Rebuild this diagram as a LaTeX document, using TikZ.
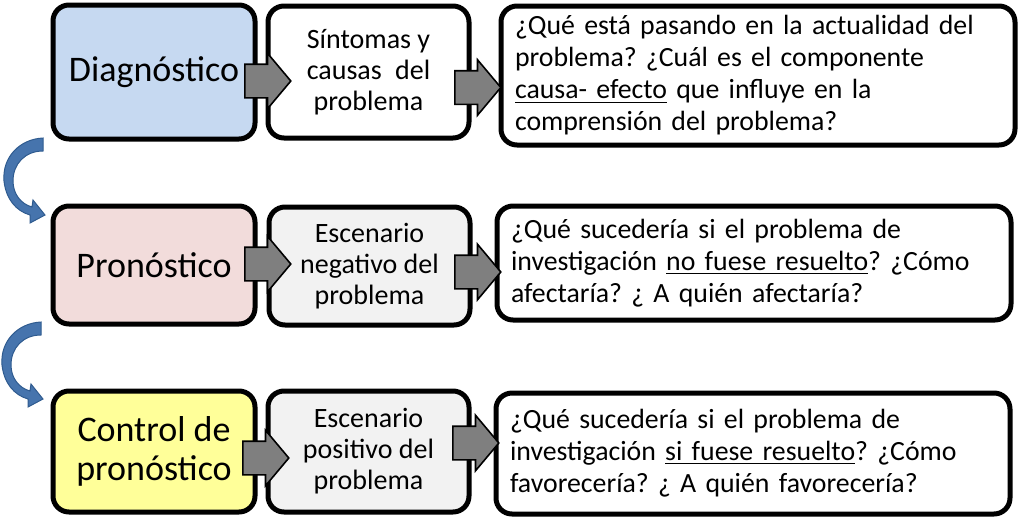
\documentclass[tikz,border=0pt]{standalone}
\usepackage{fontspec}
\setmainfont{Carlito}
\frenchspacing
\usetikzlibrary{shapes.arrows}
\definecolor{diagblue}{HTML}{C6D9F1}
\definecolor{pronpink}{HTML}{F2DCDB}
\definecolor{ctrlyellow}{HTML}{FFFF99}
\definecolor{scengray}{HTML}{F2F2F2}
\definecolor{pushgray}{HTML}{7F7F7F}
\definecolor{curveblue}{HTML}{4674AD}
\definecolor{curveedge}{HTML}{2F5B8F}
\tikzstyle{phase} = [rectangle, draw, line width=2.5pt, rounded corners=8pt, minimum width=101pt, inner sep=0pt, align=center, font=\fontsize{18}{19.5}\selectfont]
\tikzstyle{scene} = [rectangle, draw, line width=2.5pt, rounded corners=8pt, minimum width=100.5pt, inner sep=0pt, align=center, font=\fontsize{14}{15.5}\selectfont]
\tikzstyle{question} = [rectangle, draw, line width=2.5pt, rounded corners=8pt, minimum width=257pt, text width=243pt, inner sep=0pt, align=left, fill=white, font=\fontsize{13.9}{16}\selectfont]
\tikzstyle{pusher} = [single arrow, draw=black, fill=pushgray, line width=0.8pt, inner sep=0pt, text height=8pt, text depth=8pt, minimum height=23pt, single arrow head extend=5.5pt, single arrow tip angle=100, anchor=tail]
\newcommand{\curlarrow}[1]{%
    \filldraw[fill=curveblue, draw=curveedge, line width=0.5pt, shift={#1}]
        (0,-1) .. controls (-23,0) and (-41,18) .. (-39,42)
        .. controls (-37,60) and (-27,72) .. (-13,76)
        -- (-13,84) -- (2,76) -- (-10,61) -- (-11,68)
        .. controls (-22,65) and (-30,55) .. (-30,42)
        .. controls (-30,25) and (-18,12) .. (0,12) -- cycle;}

\begin{document}
\begin{tikzpicture}[x=0.5pt, y=-0.5pt]
\useasboundingbox (0,0) rectangle (1019,516);

% first row
\node[phase, fill=diagblue, minimum height=67pt] (diag) at (154, 72) {Diagnóstico};
\node[scene, fill=white, minimum height=66pt] (sint) at (368.5, 72) {
    Síntomas y\\ causas\hspace{0.25em} del\\ problema
};
\node[question, minimum height=69.5pt] (qdiag) at (758, 75.5) {
    ¿Qué está pasando en la actualidad del\\
    problema? ¿Cuál es el componente\\
    \underline{causa- efecto} que influye en la\\
    comprensión del problema?
};

% second row
\node[phase, fill=pronpink, minimum height=59pt] (pron) at (154, 265) {Pronóstico};
\node[scene, fill=scengray, minimum height=59pt] (neg) at (369.5, 266) {
    Escenario\\ negativo del\\ problema
};
\node[question, minimum height=57pt] (qpron) at (754, 263) {
    ¿Qué sucedería si el problema de\\
    investigación \underline{no fuese resuelto}? ¿Cómo\\
    afectaría? ¿ A quién afectaría?
};

% third row
\node[phase, fill=ctrlyellow, minimum height=60.5pt] (ctrl) at (154, 451.5) {
    Control de\\ pronóstico
};
\node[scene, fill=scengray, minimum height=60.5pt] (pos) at (368.5, 451.5) {
    Escenario\\ positivo del\\ problema
};
\node[question, minimum height=60.5pt] (qctrl) at (753, 453.5) {
    ¿Qué sucedería si el problema de\\
    investigación \underline{si fuese resuelto}? ¿Cómo\\
    favorecería? ¿ A quién favorecería?
};

% gray block arrows
\node[pusher] (p11) at (244, 81) {};
\node[pusher] (p12) at (454, 87.5) {};
\node[pusher] (p21) at (244, 264) {};
\node[pusher] (p22) at (454, 272) {};
\node[pusher] (p31) at (242, 458) {};
\node[pusher] (p32) at (452, 443) {};

% curved arrows between rows
\curlarrow{(43,139)}
\curlarrow{(41,323)}
\end{tikzpicture}
\end{document}
